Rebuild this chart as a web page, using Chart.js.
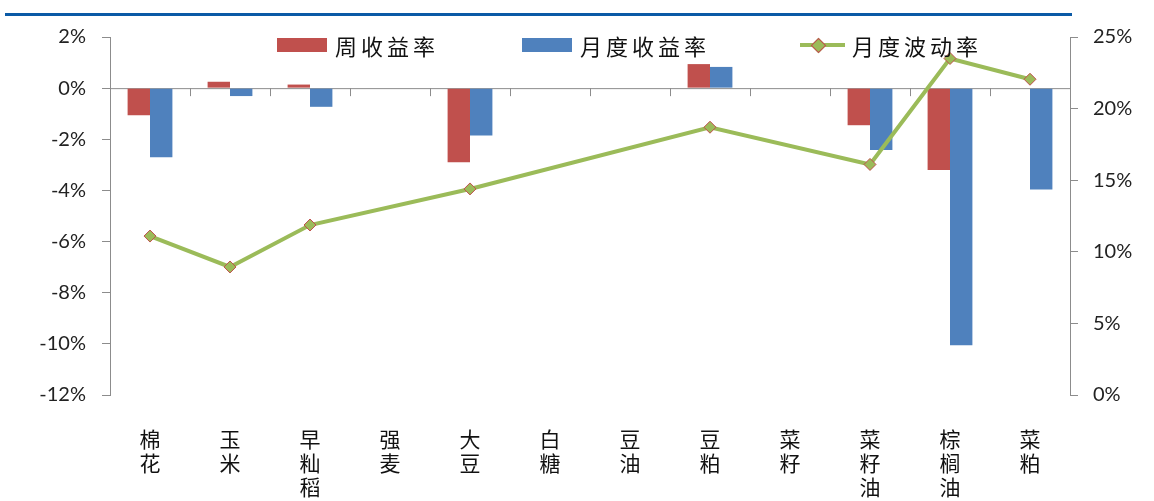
<!DOCTYPE html>
<html>
<head>
<meta charset="utf-8">
<script src="https://cdn.jsdelivr.net/npm/chart.js@4/dist/chart.umd.min.js"></script>
<style>
  body { margin: 0; background: #fff; }
  #wrap { position: relative; width: 1154px; height: 501px; }
  #topLine { position: absolute; left: 5px; top: 13px; width: 1067px; height: 3px; background: #0B5AA6; }
  .leg { position: absolute; top: 31px; font-family: "Noto Sans CJK SC"; font-size: 22px; letter-spacing: 4px; color: #111; line-height: 28px; }
  .box { position: absolute; top: 38px; width: 50px; height: 14px; }
</style>
</head>
<body>
<div id="wrap">
  <canvas id="grafico"></canvas>
  <div id="topLine"></div>
  <div class="box" style="left:277px;background:#C0504D"></div>
  <div class="leg" style="left:335px">周收益率</div>
  <div class="box" style="left:522px;background:#4F81BD"></div>
  <div class="leg" style="left:580px">月度收益率</div>
  <div style="position:absolute;left:800px;top:43px;width:45px;height:4px;background:#9BBB59"></div>
  <div style="position:absolute;left:813px;top:40px;width:9px;height:9px;background:#9BBB59;border:1px solid #C0504D;transform:rotate(45deg)"></div>
  <div class="leg" style="left:852px">月度波动率</div>
</div>
<script>
const categorias = ['棉花', '玉米', '早籼稻', '强麦', '大豆', '白糖', '豆油', '豆粕', '菜籽', '菜籽油', '棕榈油', '菜粕'];
const retornoSemanal = [-1.06, 0.25, 0.14, null, -2.9, null, null, 0.94, null, -1.45, -3.2, null];
const retornoMensal = [-2.7, -0.31, -0.73, null, -1.85, null, null, 0.83, null, -2.42, -10.05, -3.96];
const volatilidade = [11.1, 8.94, 11.87, null, 14.39, null, null, 18.7, null, 16.1, 23.5, 22.05];

const corEixo = '#8c8c8c';
const fonteNum = { family: 'Lato', size: 20 };

// zero line plus the little category ticks hanging under it
const linhaZero = {
  id: 'linhaZero',
  beforeDatasetsDraw(chart) {
    const { ctx, scales } = chart;
    const x = scales.x;
    const y0 = scales.y.getPixelForValue(0);
    ctx.save();
    ctx.strokeStyle = corEixo;
    ctx.lineWidth = 1;
    ctx.beginPath();
    ctx.moveTo(x.left, y0 + 0.5);
    ctx.lineTo(x.right, y0 + 0.5);
    for (let i = 1; i < categorias.length; i++) {
      const px = Math.round((x.getPixelForValue(i - 1) + x.getPixelForValue(i)) / 2) + 0.5;
      ctx.moveTo(px, y0);
      ctx.lineTo(px, y0 + 8);
    }
    ctx.stroke();
    ctx.restore();
  }
};

new Chart(document.getElementById('grafico'), {
  type: 'bar',
  data: {
    labels: categorias.map(c => c.split('')),
    datasets: [
      {
        type: 'line',
        label: '月度波动率',
        data: volatilidade,
        yAxisID: 'y1',
        borderColor: '#9BBB59',
        borderWidth: 4,
        pointStyle: 'rectRot',
        pointRadius: 6,
        pointBackgroundColor: '#9BBB59',
        pointBorderColor: '#C0504D',
        pointBorderWidth: 1,
        spanGaps: true,
        tension: 0,
        order: 0
      },
      {
        label: '周收益率',
        data: retornoSemanal,
        yAxisID: 'y',
        backgroundColor: '#C0504D',
        categoryPercentage: 0.56,
        barPercentage: 1,
        order: 1
      },
      {
        label: '月度收益率',
        data: retornoMensal,
        yAxisID: 'y',
        backgroundColor: '#4F81BD',
        categoryPercentage: 0.56,
        barPercentage: 1,
        order: 2
      }
    ]
  },
  options: {
    responsive: true,
    maintainAspectRatio: false,
    animation: false,
    layout: { padding: { top: 37, left: 0, right: 0, bottom: 0 } },
    plugins: { legend: { display: false }, tooltip: { enabled: false } },
    scales: {
      x: {
        grid: { display: false },
        border: { display: false },
        ticks: {
          color: '#111',
          padding: 24,
          maxRotation: 0,
          autoSkip: false,
          font: { family: 'Noto Sans CJK SC', size: 21, lineHeight: 1.15 }
        },
        afterFit(scale) { scale.height = 106; }
      },
      y: {
        position: 'left',
        min: -12,
        max: 2,
        border: { color: corEixo },
        grid: { drawOnChartArea: false, color: corEixo, tickLength: 8 },
        ticks: {
          stepSize: 2,
          padding: 16,
          color: '#222',
          font: fonteNum,
          callback: v => v + '%'
        },
        afterFit(scale) { scale.width = 110; }
      },
      y1: {
        position: 'right',
        min: 0,
        max: 25,
        border: { color: corEixo },
        grid: { drawOnChartArea: false, color: corEixo, tickLength: 8 },
        ticks: {
          stepSize: 5,
          padding: 15,
          color: '#222',
          font: fonteNum,
          callback: v => v + '%'
        },
        afterFit(scale) { scale.width = 84; }
      }
    }
  },
  plugins: [linhaZero]
});
</script>
</body>
</html>
